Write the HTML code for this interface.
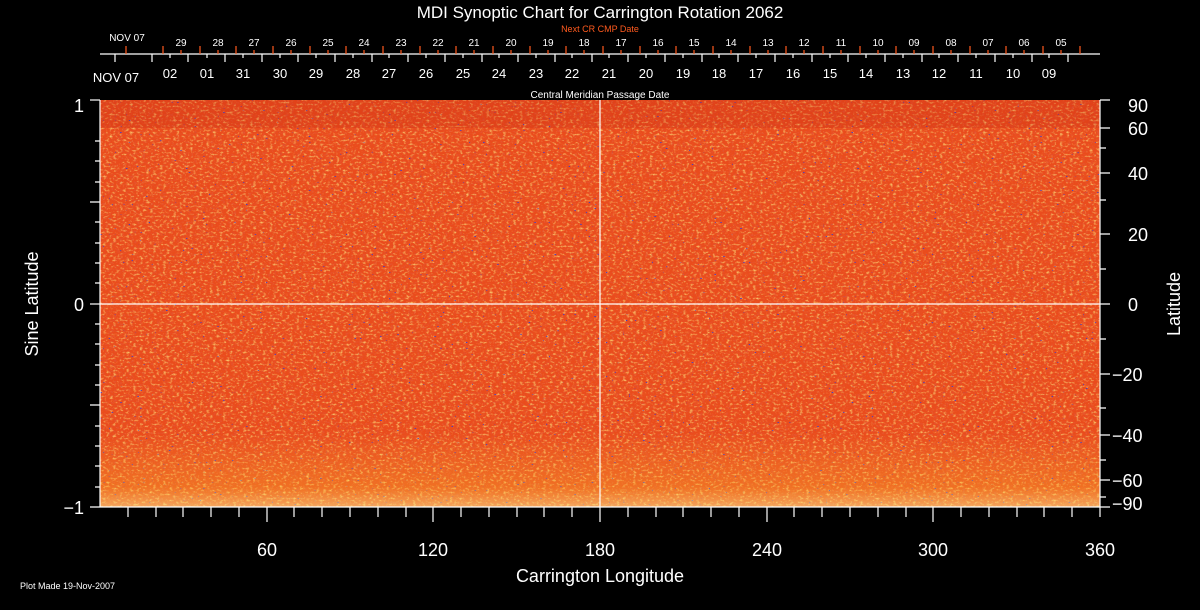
<!DOCTYPE html>
<html><head><meta charset="utf-8"><style>
html,body{margin:0;padding:0;background:#000;width:1200px;height:610px;overflow:hidden}
svg{display:block}
text{font-family:"Liberation Sans","DejaVu Sans",sans-serif;fill:#fff}
.o{fill:#ff5a1e;font-size:10px}
.w{font-size:13px}
.big{font-size:18px}
</style></head><body>
<svg width="1200" height="610" viewBox="0 0 1200 610" xmlns="http://www.w3.org/2000/svg">
<defs>
<filter id="n" x="0" y="0" width="100%" height="100%">
<feTurbulence type="fractalNoise" baseFrequency="0.3 0.5" numOctaves="2" seed="3" result="t"/>
<feColorMatrix in="t" type="matrix" values="0 0 0 0 1  0 0 0 0 0.75  0 0 0 0 0.2  2.2 0 0 0 -1.15" result="y"/>
<feTurbulence type="fractalNoise" baseFrequency="0.35 0.55" numOctaves="2" seed="9" result="t2"/>
<feColorMatrix in="t2" type="matrix" values="0 0 0 0 0.75  0 0 0 0 0.1  0 0 0 0 0.05  2.2 0 0 0 -1.1" result="r"/>
<feMerge><feMergeNode in="r"/><feMergeNode in="y"/></feMerge>
</filter>
<filter id="b" x="0" y="0" width="100%" height="100%">
<feTurbulence type="fractalNoise" baseFrequency="0.35 0.5" numOctaves="1" seed="5" result="t"/>
<feColorMatrix in="t" type="matrix" values="0 0 0 0 0.05  0 0 0 0 0.05  0 0 0 0 0.6  -12 0 0 0 3.3"/>
</filter>
<linearGradient id="g" x1="0" y1="0" x2="0" y2="1">
<stop offset="0" stop-color="#ffd040" stop-opacity="0"/>
<stop offset="0.82" stop-color="#ffd040" stop-opacity="0"/>
<stop offset="0.95" stop-color="#ffc030" stop-opacity="0.3"/>
<stop offset="1" stop-color="#ffffa0" stop-opacity="0.5"/>
</linearGradient>
</defs>
<rect x="100" y="100" width="1000" height="407" fill="#ea4c1c"/>
<rect x="100" y="100" width="1000" height="407" filter="url(#n)"/>
<rect x="100" y="100" width="1000" height="407" filter="url(#b)"/>
<rect x="100" y="100" width="1000" height="407" fill="url(#g)"/>
<rect x="100" y="100" width="1000" height="28" fill="#c02010" opacity="0.2"/>
<line x1="600" y1="100" x2="600" y2="507" stroke="#fff" stroke-width="1.2"/>
<line x1="100" y1="304" x2="1100" y2="304" stroke="#fff" stroke-width="1.2"/>
<g stroke="#fff" stroke-width="1.2" fill="none">
<line x1="100" y1="100" x2="100" y2="507"/>
<line x1="1100" y1="100" x2="1100" y2="517"/>
<line x1="90" y1="507" x2="1100" y2="507"/>
<line x1="90" y1="100" x2="100" y2="100"/>
<line x1="90" y1="304" x2="100" y2="304"/>
<path d="M95 141H100M95 161H100M95 182H100M95 202H100M95 222H100M95 243H100M95 263H100M95 283H100M95 324H100M95 344H100M95 365H100M95 385H100M95 405H100M95 426H100M95 446H100M95 466H100M95 487H100M90 202H100M90 405H100"/>
<path d="M1100 100H1110M1100 128H1110M1100 148H1106M1100 173H1110M1100 200H1106M1100 234H1110M1100 269H1106M1100 304H1110M1100 339H1106M1100 374H1110M1100 408H1106M1100 435H1110M1100 460H1106M1100 480H1110M1100 497H1106M1100 507H1110"/>
<path d="M128 507v10M156 507v10M183 507v10M211 507v10M239 507v10M267 507v15M294 507v10M322 507v10M350 507v10M378 507v10M406 507v10M433 507v15M461 507v10M489 507v10M517 507v10M544 507v10M572 507v10M600 507v15M628 507v10M656 507v10M683 507v10M711 507v10M739 507v10M767 507v15M794 507v10M822 507v10M850 507v10M878 507v10M906 507v10M933 507v15M961 507v10M989 507v10M1017 507v10M1044 507v10M1072 507v10"/>
<line x1="100" y1="54" x2="1100" y2="54"/>
<path d="M115 54v8M152 54v8M188 54v8M225 54v8M262 54v8M298 54v8M335 54v8M372 54v8M408 54v8M445 54v8M482 54v8M518 54v8M555 54v8M592 54v8M628 54v8M665 54v8M702 54v8M738 54v8M775 54v8M812 54v8M848 54v8M885 54v8M922 54v8M958 54v8M995 54v8M1032 54v8M1068 54v8"/>
<path d="M170 54v4M207 54v4M243 54v4M280 54v4M316 54v4M353 54v4M389 54v4M426 54v4M463 54v4M499 54v4M536 54v4M572 54v4M609 54v4M646 54v4M683 54v4M719 54v4M756 54v4M793 54v4M830 54v4M866 54v4M903 54v4M939 54v4M976 54v4M1013 54v4M1049 54v4"/>
</g>
<g stroke="#ff5a1e" stroke-width="1.2">
<path d="M126 46v8M163 46v8M200 46v8M236 46v8M273 46v8M310 46v8M346 46v8M383 46v8M420 46v8M456 46v8M493 46v8M530 46v8M566 46v8M603 46v8M640 46v8M676 46v8M713 46v8M750 46v8M786 46v8M823 46v8M860 46v8M896 46v8M933 46v8M970 46v8M1006 46v8M1043 46v8M1080 46v8"/>
<path d="M181 50v4M218 50v4M254 50v4M291 50v4M328 50v4M364 50v4M401 50v4M438 50v4M474 50v4M511 50v4M548 50v4M584 50v4M621 50v4M658 50v4M694 50v4M731 50v4M768 50v4M804 50v4M841 50v4M878 50v4M914 50v4M951 50v4M988 50v4M1024 50v4M1061 50v4"/>
</g>
<text x="600" y="18" text-anchor="middle" class="big" style="font-size:17px">MDI Synoptic Chart for Carrington Rotation 2062</text>
<text x="600" y="32" text-anchor="middle" class="o" style="font-size:9px">Next CR CMP Date</text>
<text x="600" y="98" text-anchor="middle" style="font-size:10px">Central Meridian Passage Date</text>
<g class="o" text-anchor="middle">
<text x="127" y="41">NOV 07</text><text x="181" y="46">29</text><text x="218" y="46">28</text><text x="254" y="46">27</text><text x="291" y="46">26</text><text x="328" y="46">25</text><text x="364" y="46">24</text><text x="401" y="46">23</text><text x="438" y="46">22</text><text x="474" y="46">21</text><text x="511" y="46">20</text><text x="548" y="46">19</text><text x="584" y="46">18</text><text x="621" y="46">17</text><text x="658" y="46">16</text><text x="694" y="46">15</text><text x="731" y="46">14</text><text x="768" y="46">13</text><text x="804" y="46">12</text><text x="841" y="46">11</text><text x="878" y="46">10</text><text x="914" y="46">09</text><text x="951" y="46">08</text><text x="988" y="46">07</text><text x="1024" y="46">06</text><text x="1061" y="46">05</text>
</g>
<g class="w" text-anchor="middle">
<text x="116" y="82">NOV 07</text><text x="170" y="78">02</text><text x="207" y="78">01</text><text x="243" y="78">31</text><text x="280" y="78">30</text><text x="316" y="78">29</text><text x="353" y="78">28</text><text x="389" y="78">27</text><text x="426" y="78">26</text><text x="463" y="78">25</text><text x="499" y="78">24</text><text x="536" y="78">23</text><text x="572" y="78">22</text><text x="609" y="78">21</text><text x="646" y="78">20</text><text x="683" y="78">19</text><text x="719" y="78">18</text><text x="756" y="78">17</text><text x="793" y="78">16</text><text x="830" y="78">15</text><text x="866" y="78">14</text><text x="903" y="78">13</text><text x="939" y="78">12</text><text x="976" y="78">11</text><text x="1013" y="78">10</text><text x="1049" y="78">09</text>
</g>
<g class="big" text-anchor="end">
<text x="84" y="112">1</text><text x="84" y="311">0</text><text x="84" y="514">−1</text>
</g>
<g class="big" text-anchor="start">
<text x="1128" y="112">90</text><text x="1128" y="135">60</text><text x="1128" y="180">40</text><text x="1128" y="241">20</text><text x="1128" y="311">0</text>
<text x="1112" y="381">−20</text><text x="1112" y="442">−40</text><text x="1112" y="487">−60</text><text x="1112" y="510">−90</text>
</g>
<g class="big" text-anchor="middle">
<text x="267" y="556">60</text><text x="433" y="556">120</text><text x="600" y="556">180</text><text x="767" y="556">240</text><text x="933" y="556">300</text><text x="1100" y="556">360</text>
<text x="600" y="582">Carrington Longitude</text>
</g>
<text class="big" text-anchor="middle" transform="translate(38 304) rotate(-90)">Sine Latitude</text>
<text class="big" text-anchor="middle" transform="translate(1180 304) rotate(-90)">Latitude</text>
<text x="20" y="589" style="font-size:9px">Plot Made 19-Nov-2007</text>
</svg>
</body></html>
